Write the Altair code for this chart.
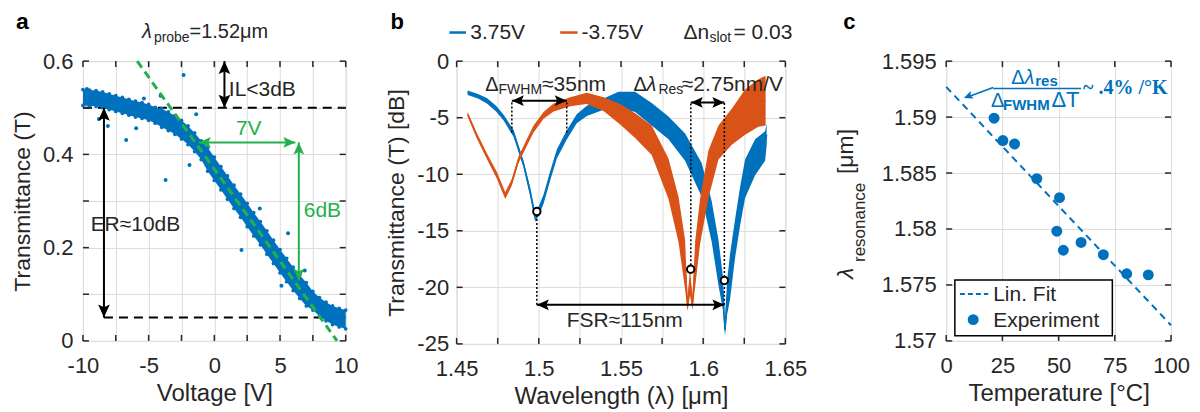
import altair as alt
import pandas as pd

FONT = "Liberation Sans"
BLUE = "#0072BD"
ORANGE = "#D95319"
GREEN = "#22B14C"
DARK = "#262626"
GRID = "#dcdcdc"

# ---------------- panel a : transmittance vs voltage ----------------
a_volt = [-10, -9.5, -9, -8.5, -8, -7.5, -7, -6.5, -6, -5.5, -5, -4.5, -4, -3.5, -3, -2.5,
          -2, -1.5, -1, -0.5, 0, 0.5, 1, 1.5, 2, 2.5, 3, 3.5, 4, 4.5, 5, 5.5, 6, 6.5, 7,
          7.5, 8, 8.5, 9, 9.5, 10]
a_trans = [0.522, 0.521, 0.520, 0.517, 0.513, 0.509, 0.505, 0.501, 0.497, 0.494, 0.490,
           0.484, 0.478, 0.471, 0.463, 0.453, 0.441, 0.426, 0.409, 0.389, 0.369, 0.349,
           0.329, 0.309, 0.290, 0.270, 0.250, 0.231, 0.211, 0.191, 0.171, 0.152, 0.133,
           0.116, 0.100, 0.086, 0.073, 0.063, 0.055, 0.050, 0.046]
a_spread = [0.017] * 12 + [0.020] * 7 + [0.025] * 16 + [0.020] * 6
a_out_v = [-2.34, -5.36, -4.09, -1.38, -6.71, -5.95, -8.1, -8.78, -1.89, -9.7,
           2.07, 5.61, 5.11, 3.46, 6.88, -3.71]
a_out_t = [0.570, 0.520, 0.526, 0.486, 0.431, 0.456, 0.461, 0.476, 0.377, 0.540,
           0.195, 0.231, 0.118, 0.284, 0.151, 0.345]
a_fit_v = [-5.87, 9.34]
a_fit_t = [0.6, 0.0]

# ---------------- panel b : spectra ----------------
b_blue_wl = [1.4567, 1.4630, 1.4684, 1.4740, 1.4786, 1.4847, 1.4907, 1.4948, 1.4978, 1.4998,
             1.5029, 1.5070, 1.5110, 1.5171, 1.5231, 1.5292, 1.5394, 1.5485, 1.5586, 1.5687,
             1.5789, 1.5890, 1.5991, 1.6052, 1.6093, 1.6120, 1.6133, 1.6145, 1.6164, 1.6194,
             1.6225, 1.6255, 1.6316, 1.6377, 1.6386]
b_blue_db = [-2.8, -3.1, -3.5, -4.2, -5.0, -6.4, -9.1, -11.6, -13.8, -13.3,
             -12.2, -10.1, -8.2, -6.5, -5.1, -4.4, -3.8, -3.4, -3.6, -4.7,
             -5.9, -7.6, -10.5, -14.2, -17.8, -20.5, -23.8, -21.0, -19.0, -15.7,
             -12.8, -10.4, -8.5, -7.5, -6.5]
b_blue_noise = [0.2, 0.2, 0.25, 0.25, 0.25, 0.3, 0.3, 0.4, 0.4, 0.4,
                0.4, 0.4, 0.4, 0.4, 0.4, 0.45, 0.5, 0.7, 0.9, 1.0,
                1.0, 1.2, 1.5, 1.8, 2.0, 1.5, 0.5, 1.5, 2.0, 1.7,
                1.7, 1.7, 1.6, 1.3, 1.0]
b_orng_wl = [1.4567, 1.4623, 1.4684, 1.4745, 1.4796, 1.4836, 1.4877, 1.4927, 1.4968, 1.5029,
             1.5090, 1.5191, 1.5292, 1.5394, 1.5495, 1.5586, 1.5687, 1.5789, 1.5850, 1.5890,
             1.5905, 1.5920, 1.5935, 1.5951, 1.5981, 1.6032, 1.6093, 1.6174, 1.6255, 1.6336,
             1.6380]
b_orng_db = [-4.7, -6.6, -8.4, -10.1, -11.9, -10.7, -8.7, -7.2, -6.0, -4.8,
             -4.1, -3.6, -3.3, -3.8, -4.7, -5.7, -7.0, -10.4, -14.0, -18.0,
             -21.6, -19.5, -21.5, -18.0, -14.2, -10.0, -7.2, -5.8, -4.5, -3.7,
             -3.5]
b_orng_noise = [0.2, 0.25, 0.25, 0.3, 0.3, 0.3, 0.3, 0.3, 0.3, 0.3,
                0.35, 0.4, 0.5, 0.6, 0.9, 1.1, 1.3, 1.8, 2.0, 2.2,
                0.5, 1.2, 0.5, 2.0, 2.0, 2.1, 1.5, 1.6, 2.0, 2.1,
                2.2]
b_mark_wl = [1.4988, 1.5924, 1.6129]
b_mark_db = [-13.3, -18.4, -19.4]

# ---------------- panel c : resonance vs temperature ----------------
c_temp = [21.3, 25.2, 30.4, 40.3, 50.4, 49.2, 52.1, 60.0, 69.9, 80.3, 89.9]
c_res = [1.5899, 1.5879, 1.5876, 1.5845, 1.5828, 1.5798, 1.5781, 1.5788, 1.5777, 1.5760, 1.5759]
c_fit_t = [0, 100]
c_fit_l = [1.5927, 1.5714]

# arrow-head shapes (tip at the anchor point)
UP = "M0,0L0.9,2L0,1.6L-0.9,2Z"
DOWN = "M0,0L0.9,-2L0,-1.6L-0.9,-2Z"
LEFT = "M0,0L2,0.9L1.6,0L2,-0.9Z"
RIGHT = "M0,0L-2,0.9L-1.6,0L-2,-0.9Z"


def mk_axis(values, expr, title, lp, tp, tsize):
    return alt.Axis(values=values, labelExpr=expr, title=title, grid=True, gridColor=GRID,
                    gridWidth=1, ticks=False, domain=False, labelFont=FONT, labelFontSize=22,
                    labelColor=DARK, labelFlush=False, labelOverlap=False, labelPadding=lp,
                    titleFont=FONT, titleFontSize=tsize, titleFontWeight="normal",
                    titleColor=DARK, titlePadding=tp)


def hrule(xs, x2s, ys, X, Y, **mk):
    return alt.Chart(pd.DataFrame({"x": xs, "x2": x2s, "y": ys})).mark_rule(**mk).encode(
        x=X, x2="x2:Q", y=Y)


def vrule(xs, ys, y2s, X, Y, **mk):
    return alt.Chart(pd.DataFrame({"x": xs, "y": ys, "y2": y2s})).mark_rule(**mk).encode(
        x=X, y=Y, y2="y2:Q")


def heads(xs, ys, shape, X, Y, color, size, angle=0):
    return alt.Chart(pd.DataFrame({"x": xs, "y": ys})).mark_point(
        shape=shape, filled=True, color=color, size=size, opacity=1, angle=angle,
        strokeWidth=0).encode(x=X, y=Y)


def txt(xs, ys, ts, X, Y, **mk):
    style = dict(font=FONT, fontSize=21, color=DARK, align="left", baseline="alphabetic")
    style.update(mk)
    return alt.Chart(pd.DataFrame({"x": xs, "y": ys, "t": ts})).mark_text(**style).encode(
        x=X, y=Y, text="t:N")


def inward_ticks(xvals, yvals, X, Y, w, h, L=6):
    tx = alt.Chart(pd.DataFrame({"x": xvals})).mark_rule(color=DARK, strokeWidth=1.5)
    ty = alt.Chart(pd.DataFrame({"y": yvals})).mark_rule(color=DARK, strokeWidth=1.5)
    return [tx.encode(x=X, y=alt.value(0), y2=alt.value(L)),
            tx.encode(x=X, y=alt.value(h), y2=alt.value(h - L)),
            ty.encode(y=Y, x=alt.value(0), x2=alt.value(L)),
            ty.encode(y=Y, x=alt.value(w), x2=alt.value(w - L))]


SIGNED = "((datum.value < 0 ? '-' : '') + format(abs(datum.value), '~g'))"
XLP, XTP, XTS = 15, 5, 24
YLP, YTP, YTS = 10, 8, 23

# ================= panel a =================
WA, HA = 263, 280
ax_vals = [-10, -7.5, -5, -2.5, 0, 2.5, 5, 7.5, 10]
ay_vals = [0, 0.1, 0.2, 0.3, 0.4, 0.5, 0.6]
XA = alt.X("x:Q", scale=alt.Scale(domain=[-10, 10], nice=False, zero=False),
           axis=mk_axis(ax_vals, "abs(datum.value) % 5 == 0 ? " + SIGNED + " : ''",
                        "Voltage [V]", XLP, XTP, XTS))
YA = alt.Y("y:Q", scale=alt.Scale(domain=[0, 0.6], nice=False, zero=False),
           axis=mk_axis(ay_vals, "round(datum.value * 10) % 2 == 0 ? format(datum.value, '~g') : ''",
                        "Transmittance (T)", YLP, YTP, YTS))

band_a = pd.DataFrame({"x": a_volt,
                       "y": [c - s for c, s in zip(a_trans, a_spread)],
                       "y2": [c + s for c, s in zip(a_trans, a_spread)],
                       "m": a_trans})
layers_a = [
    hrule([-10, -8.4], [10, 10], [0.5, 0.05], XA, YA, color="black", strokeWidth=2, strokeDash=[9, 6]),
    alt.Chart(band_a).mark_area(color=BLUE, opacity=1).encode(x=XA, y=YA, y2="y2:Q"),
    alt.Chart(band_a).mark_circle(color=BLUE, size=14, opacity=1).encode(x=XA, y=YA),
    alt.Chart(band_a).mark_circle(color=BLUE, size=14, opacity=1).encode(x=XA, y=alt.Y("y2:Q")),
    alt.Chart(pd.DataFrame({"x": a_out_v, "y": a_out_t})).mark_circle(
        color=BLUE, size=16, opacity=1).encode(x=XA, y=YA),
    alt.Chart(pd.DataFrame({"x": a_fit_v, "y": a_fit_t})).mark_line(
        color=GREEN, strokeWidth=3, strokeDash=[8, 5]).encode(x=XA, y=YA),
    # ER arrow
    vrule([-8.4], [0.05], [0.5], XA, YA, color="black", strokeWidth=2),
    heads([-8.4], [0.5], UP, XA, YA, "black", 169),
    heads([-8.4], [0.05], DOWN, XA, YA, "black", 169),
    # IL arrow
    vrule([0.77], [0.5], [0.6], XA, YA, color="black", strokeWidth=2),
    heads([0.77], [0.6], UP, XA, YA, "black", 169),
    heads([0.77], [0.5], DOWN, XA, YA, "black", 169),
    # green arrows
    hrule([-1.18], [6.17], [0.4257], XA, YA, color=GREEN, strokeWidth=2),
    heads([-1.18], [0.4257], LEFT, XA, YA, GREEN, 144),
    heads([6.17], [0.4257], RIGHT, XA, YA, GREEN, 144),
    vrule([6.43], [0.129], [0.4257], XA, YA, color=GREEN, strokeWidth=2),
    heads([6.43], [0.4257], UP, XA, YA, GREEN, 144),
    heads([6.43], [0.129], DOWN, XA, YA, GREEN, 144),
    # labels
    txt([1.103, -9.414], [0.5256, 0.235], ["IL<3dB", "ER≈10dB"], XA, YA),
    txt([2.62], [0.4414], ["7V"], XA, YA, color=GREEN, align="center"),
    txt([6.806], [0.265], ["6dB"], XA, YA, color=GREEN),
    txt([-5.513], [0.6493], ["λ"], XA, YA, fontSize=20, fontStyle="italic"),
    txt([-4.6], [0.6418], ["probe"], XA, YA, fontSize=14),
    txt([-1.886], [0.6493], ["=1.52μm"], XA, YA, fontSize=20),
    txt([-14.6], [0.6686], ["a"], XA, YA, fontSize=23, fontWeight="bold", color="black", align="center"),
] + inward_ticks(ax_vals, ay_vals, XA, YA, WA, HA)
panel_a = alt.layer(*layers_a).properties(width=WA, height=HA)

# ================= panel b =================
WB, HB = 329, 283
bx_vals = [1.45, 1.475, 1.5, 1.525, 1.55, 1.575, 1.6, 1.625, 1.65]
by_vals = [-25, -20, -15, -10, -5, 0]
XB = alt.X("x:Q", scale=alt.Scale(domain=[1.45, 1.65], nice=False, zero=False),
           axis=mk_axis(bx_vals, "round(datum.value * 1000) % 50 == 0 ? format(datum.value, '~g') : ''",
                        "Wavelength (λ) [μm]", XLP, XTP, XTS))
YB = alt.Y("y:Q", scale=alt.Scale(domain=[-25, 0], nice=False, zero=False),
           axis=mk_axis(by_vals, SIGNED, "Transmittance (T) [dB]", 8, YTP, YTS))


def spectrum(wl, db, noise, color):
    d = pd.DataFrame({"x": wl, "y": [v - n for v, n in zip(db, noise)],
                      "y2": [v + n for v, n in zip(db, noise)], "m": db})
    return [alt.Chart(d).mark_area(color=color, opacity=1).encode(x=XB, y=YB, y2="y2:Q"),
            alt.Chart(d).mark_line(color=color, strokeWidth=1.5).encode(x=XB, y=alt.Y("m:Q"))]


DOT = dict(color="black", strokeWidth=1.5, strokeDash=[2, 2])
layers_b = spectrum(b_blue_wl, b_blue_db, b_blue_noise, BLUE) + \
    spectrum(b_orng_wl, b_orng_db, b_orng_noise, ORANGE) + [
    vrule([1.4836, 1.517], [-6.3, -6.3], [-3.5, -3.5], XB, YB, **DOT),
    vrule([1.5925, 1.6129, 1.4988], [-18.4, -21.55, -21.55], [-3.65, -3.65, -13.3], XB, YB, **DOT),
    hrule([1.4836, 1.5925, 1.4988], [1.517, 1.6129, 1.6129], [-3.5, -3.65, -21.55], XB, YB,
          color="black", strokeWidth=2),
    heads([1.4836, 1.5925, 1.4988], [-3.5, -3.65, -21.55], LEFT, XB, YB, "black", 144),
    heads([1.517, 1.6129, 1.6129], [-3.5, -3.65, -21.55], RIGHT, XB, YB, "black", 144),
    alt.Chart(pd.DataFrame({"x": b_mark_wl, "y": b_mark_db})).mark_point(
        shape="circle", filled=True, fill="white", stroke="black", strokeWidth=2, size=55,
        opacity=1).encode(x=XB, y=YB),
    # annotations
    txt([1.46745, 1.5576], [-2.65, -2.65], ["Δ", "Δ"], XB, YB, fontSize=20),
    txt([1.47553, 1.5728], [-2.915, -2.915], ["FWHM", "Res"], XB, YB, fontSize=14),
    txt([1.5655], [-2.65], ["λ"], XB, YB, fontSize=20, fontStyle="italic"),
    txt([1.50198, 1.5870], [-2.65, -2.65], ["≈35nm", "≈2.75nm/V"], XB, YB),
    txt([1.5523], [-23.5], ["FSR≈115nm"], XB, YB, align="center"),
    # legend on top
    hrule([1.4456], [1.4557], [2.53], XB, YB, color=BLUE, strokeWidth=2.5),
    hrule([1.513], [1.5236], [2.53], XB, YB, color=ORANGE, strokeWidth=2.5),
    txt([1.4583, 1.526, 1.6184], [1.94, 1.94, 1.94], ["3.75V", "-3.75V", "= 0.03"], XB, YB),
    txt([1.588], [1.94], ["Δn"], XB, YB),
    txt([1.6038], [1.68], ["slot"], XB, YB, fontSize=14),
    txt([1.4138], [2.83], ["b"], XB, YB, fontSize=22, fontWeight="bold", color="black", align="center"),
] + inward_ticks(bx_vals, by_vals, XB, YB, WB, HB)
panel_b = alt.layer(*layers_b).properties(width=WB, height=HB)

# ================= panel c =================
WC, HC = 225, 280
cx_vals = [0, 25, 50, 75, 100]
cy_vals = [1.57, 1.575, 1.58, 1.585, 1.59, 1.595]
XC = alt.X("x:Q", scale=alt.Scale(domain=[0, 100], nice=False, zero=False),
           axis=mk_axis(cx_vals, "format(datum.value, '~g')", "Temperature [°C]", XLP, XTP, XTS))
YC = alt.Y("y:Q", scale=alt.Scale(domain=[1.57, 1.595], nice=False, zero=False),
           axis=mk_axis(cy_vals, "format(datum.value, '~g')", "", YLP, YTP, YTS))

layers_c = [
    alt.Chart(pd.DataFrame({"x": c_fit_t, "y": c_fit_l})).mark_line(
        color=BLUE, strokeWidth=2, strokeDash=[7, 5]).encode(x=XC, y=YC),
    alt.Chart(pd.DataFrame({"x": c_temp, "y": c_res})).mark_circle(
        color=BLUE, size=120, opacity=1).encode(x=XC, y=YC),
    # legend box
    alt.Chart(pd.DataFrame({"x": [3.85], "x2": [73.9], "y": [1.57047], "y2": [1.57545]})).mark_rect(
        fill="white", stroke="black", strokeWidth=1.5).encode(x=XC, x2="x2:Q", y=YC, y2="y2:Q"),
    hrule([6.1], [18.7], [1.5742], XC, YC, color=BLUE, strokeWidth=2, strokeDash=[5, 3]),
    alt.Chart(pd.DataFrame({"x": [12.0], "y": [1.5719]})).mark_circle(
        color=BLUE, size=120, opacity=1).encode(x=XC, y=YC),
    txt([20.9, 20.9], [1.5736, 1.57125], ["Lin. Fit", "Experiment"], XC, YC),
    # slope annotation
    alt.Chart(pd.DataFrame({"x": [20.9, 9.5], "y": [1.59265, 1.5918]})).mark_line(
        color=BLUE, strokeWidth=1.5).encode(x=XC, y=YC),
    heads([7.85], [1.5917], LEFT, XC, YC, BLUE, 81, angle=339),
    hrule([20.9], [60.0], [1.59256], XC, YC, color=BLUE, strokeWidth=1.5),
    txt([28.9, 19.9], [1.59295, 1.59089], ["Δ", "Δ"], XC, YC, fontSize=20, color=BLUE),
    txt([34.8], [1.59295], ["λ"], XC, YC, fontSize=20, color=BLUE, fontStyle="italic"),
    txt([39.6], [1.59277], ["res"], XC, YC, fontSize=15, color=BLUE, fontWeight="bold"),
    txt([25.3], [1.59063], ["FWHM"], XC, YC, fontSize=15, color=BLUE, fontWeight="bold"),
    txt([46.8], [1.59089], ["ΔT"], XC, YC, fontSize=22, color=BLUE),
    txt([60.9], [1.59205], ["~ .4% /°K"], XC, YC, fontSize=20, color=BLUE,
        font="Liberation Serif", fontWeight="bold"),
    # y-axis title with subscript
    txt([-41.33], [1.57554], ["λ"], XC, YC, fontSize=23, fontStyle="italic", angle=270),
    txt([-36.0], [1.57705], ["resonance"], XC, YC, fontSize=17, angle=270),
    txt([-41.33], [1.58491], ["[μm]"], XC, YC, fontSize=23, angle=270),
    txt([-43.1], [1.59786], ["c"], XC, YC, fontSize=22, fontWeight="bold", color="black", align="center"),
] + inward_ticks(cx_vals, cy_vals, XC, YC, WC, HC)
panel_c = alt.layer(*layers_c).properties(width=WC, height=HC)


def spacer(w):
    return alt.Chart(pd.DataFrame({"s": [0]})).mark_point(opacity=0).encode(
        x=alt.X("s:Q", axis=None), y=alt.Y("s:Q", axis=None)).properties(
        width=w, height=10, view=alt.ViewBackground(stroke="transparent"))


chart = alt.hconcat(panel_a, spacer(111), panel_b, spacer(161), panel_c,
                    spacing=0, bounds="flush").resolve_scale(
    x="independent", y="independent").properties(
    padding={"left": 2, "top": 2, "right": 2, "bottom": 0}).configure_view(
    stroke=DARK, strokeWidth=2).configure(font=FONT)

chart.save("out.html", embed_options={"renderer": "svg", "actions": False})
